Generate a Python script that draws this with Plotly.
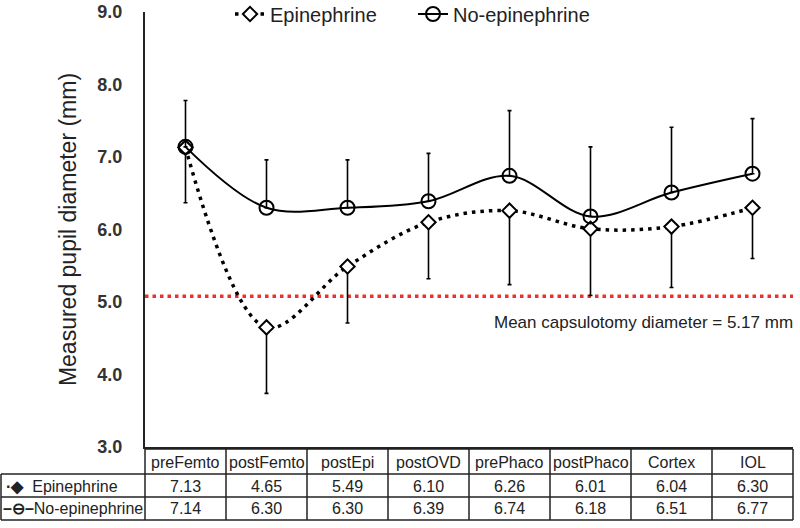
import plotly.graph_objects as go

categories = ["preFemto", "postFemto", "postEpi", "postOVD", "prePhaco", "postPhaco", "Cortex", "IOL"]
epinephrine = [7.13, 4.65, 5.49, 6.10, 6.26, 6.01, 6.04, 6.30]
no_epinephrine = [7.14, 6.30, 6.30, 6.39, 6.74, 6.18, 6.51, 6.77]
epi_sd = [0.76, 0.91, 0.78, 0.78, 1.02, 0.92, 0.84, 0.70]
noepi_sd = [0.64, 0.66, 0.66, 0.66, 0.90, 0.96, 0.90, 0.76]
capsulotomy_line = 5.08
capsulotomy_label = "Mean capsulotomy diameter = 5.17 mm"
y_ticks = [3, 4, 5, 6, 7, 8, 9]

W, H = 800, 528
# plot area in page pixels
PL, PR, PT, PB = 145, 793, 12, 447
L, R, T, B = PL, W - PR, PT, H - PB
FONT = "Liberation Sans, Arial, sans-serif"

def px(x):  # page pixel -> paper x
    return (x - PL) / (PR - PL)

def py(y):  # page pixel -> paper y
    return (PB - y) / (PB - PT)

fig = go.Figure()

fig.add_trace(go.Scatter(
    x=categories, y=epinephrine, name="Epinephrine", legend="legend",
    mode="lines+markers",
    line=dict(color="black", width=3.5, dash="3.5px,5px", shape="spline", smoothing=1.0),
    marker=dict(symbol="diamond", size=11, color="white", line=dict(color="black", width=2)),
    error_y=dict(type="data", symmetric=False, array=[0] * len(epi_sd), arrayminus=epi_sd,
                 color="black", thickness=1.6, width=2),
))
fig.add_trace(go.Scatter(
    x=categories, y=no_epinephrine, name="No-epinephrine", legend="legend2",
    mode="lines+markers",
    line=dict(color="black", width=2, shape="spline", smoothing=1.0),
    marker=dict(symbol="circle-open", size=14, color="black", line=dict(color="black", width=2)),
    error_y=dict(type="data", symmetric=False, array=noepi_sd, arrayminus=[0] * len(noepi_sd),
                 color="black", thickness=1.6, width=2),
))

shapes = []
shapes.append(dict(type="line", xref="paper", yref="y", x0=0, x1=1,
                   y0=capsulotomy_line, y1=capsulotomy_line,
                   line=dict(color="#e8322b", width=3.5, dash="3.5px,4px"), layer="below"))

col_edges = [PL + i * (PR - PL) / len(categories) for i in range(len(categories) + 1)]
row_y = [449, 474, 497, 520]
lc = dict(color="#222", width=1.5)
shapes.append(dict(type="line", xref="paper", yref="paper", x0=px(PL), x1=px(PR), y0=py(row_y[0]), y1=py(row_y[0]), line=lc))
for yy in row_y[1:]:
    shapes.append(dict(type="line", xref="paper", yref="paper", x0=px(1), x1=px(PR), y0=py(yy), y1=py(yy), line=lc))
for xx in col_edges:
    shapes.append(dict(type="line", xref="paper", yref="paper", x0=px(xx), x1=px(xx), y0=py(row_y[0]), y1=py(row_y[3]), line=lc))
shapes.append(dict(type="line", xref="paper", yref="paper", x0=px(1), x1=px(1), y0=py(row_y[1]), y1=py(row_y[3]), line=lc))

annotations = []
for i, c in enumerate(categories):
    cx = (col_edges[i] + col_edges[i + 1]) / 2
    for text, yy in [(c, 462), (f"{epinephrine[i]:.2f}", 486), (f"{no_epinephrine[i]:.2f}", 509)]:
        annotations.append(dict(x=px(cx), y=py(yy), xref="paper", yref="paper", text=text,
                                showarrow=False, xanchor="center", yanchor="middle",
                                font=dict(family=FONT, size=16, color="#222")))
annotations.append(dict(x=px(4), y=py(486), xref="paper", yref="paper", text="<b>·◆</b>  Epinephrine",
                        showarrow=False, xanchor="left", yanchor="middle", font=dict(family=FONT, size=16, color="#222")))
annotations.append(dict(x=px(1), y=py(509), xref="paper", yref="paper", text="<b>–⊖–</b>No-epinephrine",
                        showarrow=False, xanchor="left", yanchor="middle", font=dict(family=FONT, size=16, color="#222")))
annotations.append(dict(x=px(795), y=py(322), xref="paper", yref="paper", text=capsulotomy_label,
                        showarrow=False, xanchor="right", yanchor="middle", font=dict(family=FONT, size=17, color="#222")))

leg_common = dict(orientation="h", xanchor="left", yanchor="middle",
                  font=dict(family=FONT, size=20, color="#222"), bgcolor="rgba(0,0,0,0)",
                  itemwidth=30)

fig.update_layout(
    width=W, height=H,
    margin=dict(l=L, r=R, t=T, b=B, autoexpand=False),
    paper_bgcolor="white", plot_bgcolor="white",
    font=dict(family=FONT, color="#222"),
    showlegend=True,
    legend=dict(x=px(230), y=py(14), **leg_common),
    legend2=dict(x=px(413), y=py(14), **leg_common),
    shapes=shapes, annotations=annotations,
    xaxis=dict(type="category", range=[-0.5, len(categories) - 0.5], showticklabels=False,
               showgrid=False, zeroline=False, showline=True, linecolor="#222", linewidth=2, ticks="",
               automargin=False),
    yaxis=dict(range=[3, 9], tickvals=y_ticks, ticktext=[f"<b>{v:.1f}</b>" for v in y_ticks],
               showgrid=False, zeroline=False, showline=True, linecolor="#222", linewidth=2,
               ticks="", ticklabelstandoff=17, automargin=False,
               tickfont=dict(family=FONT, size=18, color="#333"),
               title=dict(text="Measured pupil diameter (mm)", standoff=14,
                          font=dict(family=FONT, size=23, color="#222"))),
)

fig.write_html("out.html", config={"displayModeBar": False},
               post_script="document.body.style.margin='0px';")
